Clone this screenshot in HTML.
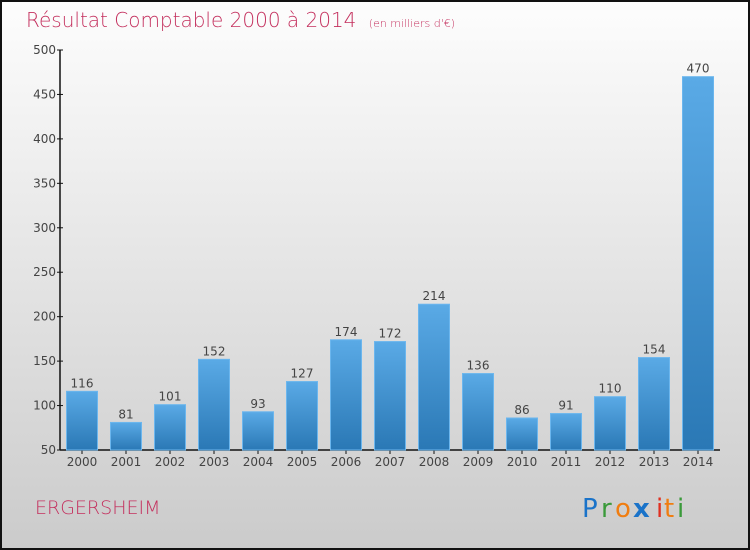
<!DOCTYPE html>
<html><head><meta charset="utf-8"><style>
html,body{margin:0;padding:0}
body{width:750px;height:550px;overflow:hidden;font-family:"DejaVu Sans","Liberation Sans",sans-serif}
#frame{position:absolute;left:0;top:0;width:746px;height:546px;border:2px solid #111;background:linear-gradient(#fdfdfd,#cbcbcb)}
</style></head><body>
<div id="frame"></div>
<svg width="750" height="550" style="position:absolute;left:0;top:0">
<defs><linearGradient id="bg" x1="0" y1="0" x2="0" y2="1"><stop offset="0" stop-color="#5aaae6"/><stop offset="1" stop-color="#2a78b5"/></linearGradient></defs>
<text x="26" y="27" font-size="20" fill="#c4305e" font-family="DejaVu Sans,sans-serif" font-weight="200">Résultat Comptable 2000 à 2014 <tspan font-size="11" dx="6">(en milliers d'€)</tspan></text>
<g id="axes"></g><g id="bars"></g>
<text x="35" y="514" font-size="19" fill="#c4305e" font-weight="200">ERGERSHEIM</text>
<g font-size="26" font-family="DejaVu Sans,sans-serif">
<text x="582" y="517" fill="#1a73c9">P</text><text x="601" y="517" fill="#3a9a3a">r</text><text x="615" y="517" fill="#f07d10">o</text><text x="633" y="517" fill="#1a73c9" font-weight="bold">x</text><text x="656" y="517" fill="#e03020">i</text><text x="664" y="517" fill="#f07d10">t</text><text x="677" y="517" fill="#3a9a3a">i</text></g>
</svg>
<script>
const categories=["2000","2001","2002","2003","2004","2005","2006","2007","2008","2009","2010","2011","2012","2013","2014"];
const values=[116,81,101,152,93,127,174,172,214,136,86,91,110,154,470];
const yTicks=[50,100,150,200,250,300,350,400,450,500];
const NS="http://www.w3.org/2000/svg";
const x0=60,x1=720,yTop=50,yBot=450,vMin=50,vMax=500;
const band=(x1-x0)/categories.length;
const y=v=>yBot-(v-vMin)/(vMax-vMin)*(yBot-yTop);
function mk(t,a,p){const e=document.createElementNS(NS,t);for(const k in a)e.setAttribute(k,a[k]);p.appendChild(e);return e;}
const ax=document.getElementById('axes'),bg=document.getElementById('bars');
let l=mk('line',{x1:x0,y1:yTop,x2:x0,y2:yBot,stroke:'#111','stroke-width':1.5},ax);


l=mk('line',{x1:x0,y1:yBot,x2:x1,y2:yBot,stroke:'#111','stroke-width':1.5},ax);


yTicks.forEach(v=>{mk('line',{x1:x0-3,y1:y(v),x2:x0+3,y2:y(v),stroke:'#111'},ax);
const t=mk('text',{x:x0-4,y:y(v)+4,'text-anchor':'end','font-size':12,fill:'#444'},ax);t.textContent=v;

});
categories.forEach((c,i)=>{const cx=x0+band*(i+0.5);
mk('line',{x1:cx,y1:yBot,x2:cx,y2:yBot+4,stroke:'#111'},ax);
const t=mk('text',{x:cx,y:yBot+16,'text-anchor':'middle','font-size':12,fill:'#444'},ax);t.textContent=c;


const r=mk('rect',{x:cx-15.5,y:y(values[i]),width:31,height:yBot-y(values[i]),fill:'url(#bg)',stroke:'#6bb6ee','stroke-width':1},bg);


const vt=mk('text',{x:cx,y:y(values[i])-4,'text-anchor':'middle','font-size':12,fill:'#444'},bg);vt.textContent=values[i];

});
</script>
</body></html>
